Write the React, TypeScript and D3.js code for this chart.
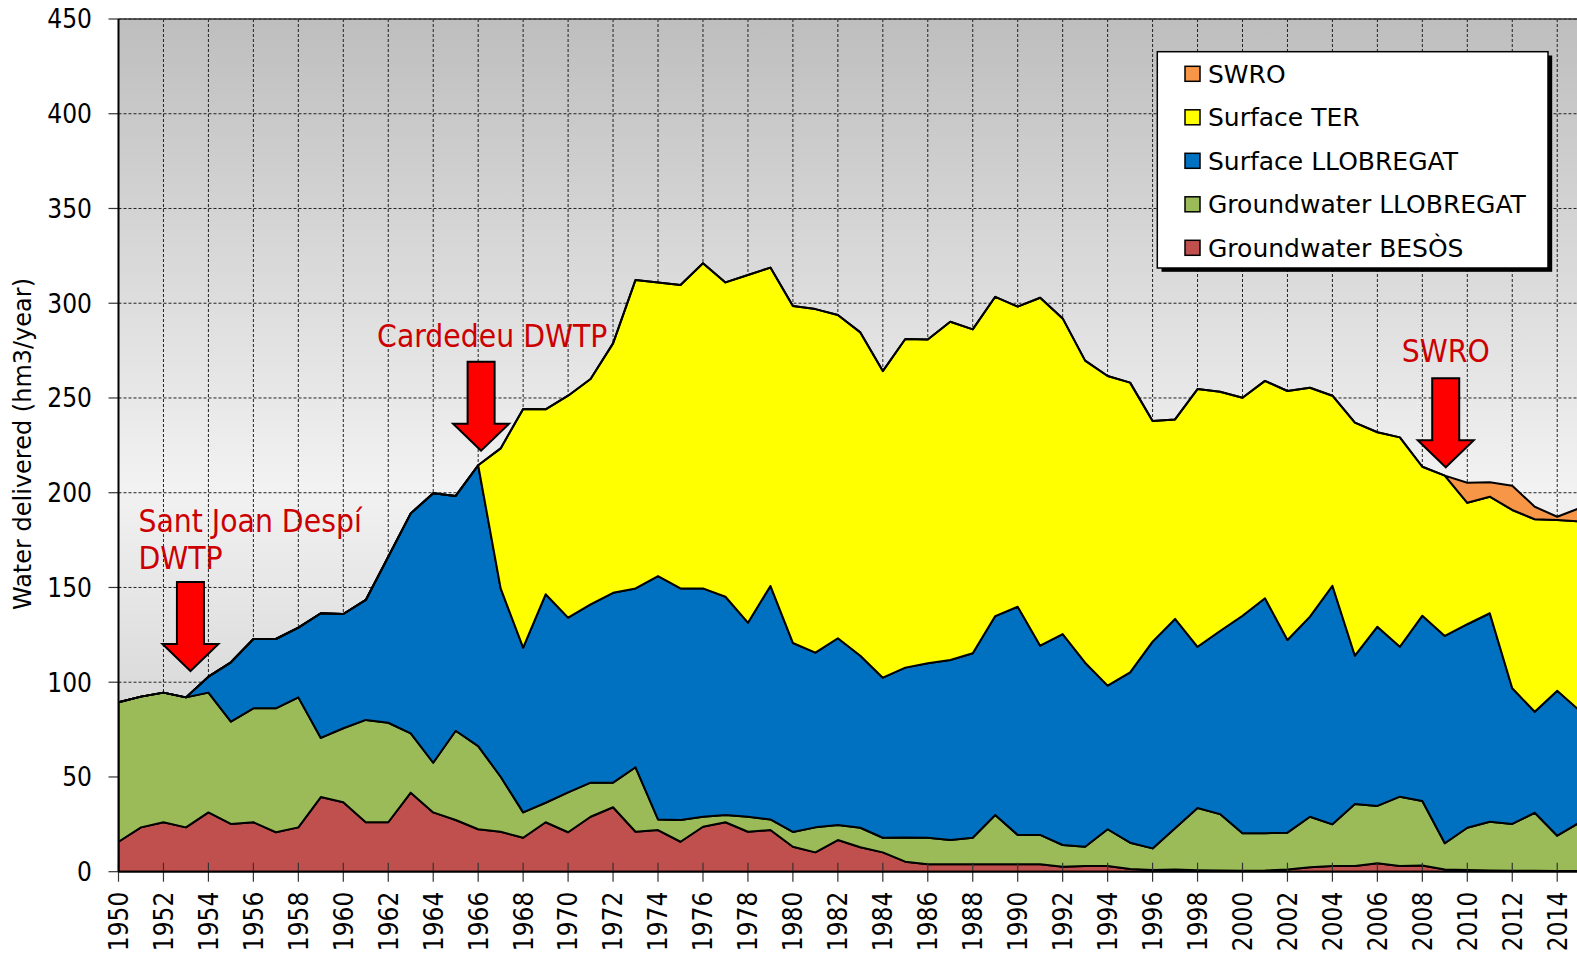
import React from 'react';
import * as d3 from 'd3';

// years on the x axis
const YEARS = d3.range(1950, 2016);

// hm3/year
const besos = [
  15.8, 23.4, 26.1, 23.4, 31.3, 25.2, 26.1, 20.8, 23.4, 39.4,
  36.6, 26.1, 26.1, 41.7, 31.3, 27.3, 22.4, 21.1, 17.9, 26.1,
  20.8, 29.0, 34.0, 21.1, 22.0, 15.8, 23.7, 26.1, 21.1, 22.0,
  13.2, 10.2, 16.7, 12.9, 10.2, 5.3, 3.9, 3.9, 3.9, 3.9,
  3.9, 3.9, 2.6, 3.0, 3.0, 1.4, 0.9, 1.2, 0.8, 0.6,
  0.5, 0.6, 1.2, 2.3, 3.0, 3.0, 4.4, 3.0, 3.3, 1.2,
  0.9, 0.6, 0.5, 0.5, 0.4, 0.4,
];
const gwLlobregat = [
  73.6, 69.0, 68.4, 68.6, 63.2, 54.0, 60.1, 65.4, 68.6, 31.2,
  39.1, 54.0, 52.5, 31.3, 26.2, 47.1, 43.9, 29.0, 13.4, 10.3,
  21.1, 18.0, 13.0, 34.0, 5.6, 11.5, 5.3, 3.8, 7.9, 5.6,
  7.8, 13.2, 7.9, 10.3, 7.7, 12.8, 14.0, 12.8, 14.0, 26.0,
  15.5, 15.5, 11.5, 10.2, 19.4, 13.9, 11.4, 21.7, 32.8, 29.8,
  19.8, 19.7, 19.4, 26.7, 22.0, 32.7, 30.3, 36.6, 34.0, 13.8,
  22.3, 25.8, 24.7, 30.6, 18.6, 25.6,
];
const surfLlobregat = [
  0, 0, 0, 0, 8.4, 31.3, 36.6, 36.6, 36.8, 65.8,
  60.3, 63.3, 87.6, 116.1, 142.2, 123.9, 148.2, 99.4, 86.9, 110.0,
  92.2, 94.1, 100.2, 94.4, 128.4, 122.2, 120.5, 115.2, 102.4, 123.2,
  99.7, 92.2, 98.6, 90.8, 84.5, 89.6, 92.1, 95.0, 97.4, 105.0,
  120.4, 99.9, 111.3, 97.1, 75.8, 89.9, 109.1, 110.5, 85.1, 96.6,
  114.8, 124.0, 101.7, 105.6, 125.9, 78.3, 94.6, 79.1, 97.8, 109.4,
  107.4, 110.0, 71.6, 53.3, 76.5, 59.0,
];
const surfTer = [
  0, 0, 0, 0, 0, 0, 0, 0, 0, 0,
  0, 0, 0, 0, 0, 0, 0, 73.9, 126.0, 97.6,
  117.1, 118.9, 131.6, 162.8, 155.0, 160.1, 171.6, 165.9, 183.5, 168.0,
  177.8, 181.3, 170.6, 170.6, 161.8, 173.4, 170.9, 178.5, 170.9, 168.5,
  158.4, 183.6, 166.6, 159.4, 163.4, 152.9, 116.4, 105.3, 136.0, 126.3,
  115.0, 114.7, 131.4, 120.8, 100.3, 123.0, 102.6, 110.5, 78.6, 84.6,
  64.1, 61.5, 94.1, 101.6, 90.1, 99.9,
];
const swro = [
  0, 0, 0, 0, 0, 0, 0, 0, 0, 0,
  0, 0, 0, 0, 0, 0, 0, 0, 0, 0,
  0, 0, 0, 0, 0, 0, 0, 0, 0, 0,
  0, 0, 0, 0, 0, 0, 0, 0, 0, 0,
  0, 0, 0, 0, 0, 0, 0, 0, 0, 0,
  0, 0, 0, 0, 0, 0, 0, 0, 0, 0,
  10.6, 7.6, 12.8, 6.6, 1.7, 7.0,
];

const SERIES = [
  { key: 'besos', label: 'Groundwater BESÒS', color: '#C0504D', values: besos },
  { key: 'gwLlob', label: 'Groundwater LLOBREGAT', color: '#9BBB59', values: gwLlobregat },
  { key: 'sfLlob', label: 'Surface LLOBREGAT', color: '#0070C0', values: surfLlobregat },
  { key: 'ter', label: 'Surface TER', color: '#FFFF00', values: surfTer },
  { key: 'swro', label: 'SWRO', color: '#F79646', values: swro },
];

const Y_TICKS = [0, 50, 100, 150, 200, 250, 300, 350, 400, 450];
const X_TICKS = d3.range(1950, 2016, 2);

const ANNOTATIONS = [
  { lines: ['Sant Joan Despí', 'DWTP'], year: 1953.2, value: 105.9, dx: -52, dy: -139, anchor: 'start' },
  { lines: ['Cardedeu DWTP'], year: 1966.13, value: 222.2, dx: -104, dy: -104, anchor: 'start' },
  { lines: ['SWRO'], year: 2009.04, value: 213.4, dx: 0, dy: -105.6, anchor: 'middle' },
];

const FONT = "'DejaVu Sans Condensed', 'DejaVu Sans', sans-serif";
const FONT_WIDE = "'DejaVu Sans', sans-serif";

export default function App() {
  const W = 1577;
  const H = 953;
  const left = 118.5;
  const top = 19;
  const bottom = 871.7;

  const x = d3.scaleLinear().domain([1950, 2015]).range([left, left + 65 * 22.48]);
  const y = d3.scaleLinear().domain([0, 450]).range([bottom, top]);

  const rows = YEARS.map((yr, i) => {
    const r: any = { year: yr };
    SERIES.forEach(s => { r[s.key] = s.values[i]; });
    return r;
  });
  const stacked = d3.stack().keys(SERIES.map(s => s.key))(rows);

  const area = d3.area<any>()
    .x(d => x(d.data.year))
    .y0(d => y(d[0]))
    .y1(d => y(d[1]));

  const arrowPath = (tx: number, ty: number) => {
    const len = 89, head = 27, sw = 13.5, hw = 28;
    return `M${tx},${ty} L${tx - hw},${ty - head} L${tx - sw},${ty - head} L${tx - sw},${ty - len} ` +
      `L${tx + sw},${ty - len} L${tx + sw},${ty - head} L${tx + hw},${ty - head} Z`;
  };

  const legendItems = [...SERIES].reverse();

  return (
    <svg width={W} height={H} style={{ position: 'absolute', left: 0, top: 0, background: '#fff' }}
      fontFamily={FONT}>
      <defs>
        <linearGradient id="plotBg" x1="0" y1="0" x2="0" y2="1">
          <stop offset="0" stopColor="#BEBEBE" />
          <stop offset="0.55" stopColor="#F2F2F2" />
          <stop offset="1" stopColor="#C6C6C6" />
        </linearGradient>
        <clipPath id="plotClip">
          <rect x={left} y={top} width={W} height={bottom - top} />
        </clipPath>
      </defs>

      <rect x={left} y={top} width={W} height={bottom - top} fill="url(#plotBg)" />

      {/* grid */}
      <g stroke="#222" strokeWidth={1} strokeDasharray="3 2">
        {Y_TICKS.filter(t => t > 0).map(t => (
          <line key={'gy' + t} x1={left} x2={W} y1={y(t)} y2={y(t)} />
        ))}
        {X_TICKS.filter(t => t > 1950).map(t => (
          <line key={'gx' + t} x1={x(t)} x2={x(t)} y1={top} y2={bottom} />
        ))}
      </g>

      {/* stacked areas */}
      <g clipPath="url(#plotClip)">
        {stacked.map((layer, i) => (
          <path key={SERIES[i].key} d={area(layer as any) || ''} fill={SERIES[i].color}
            stroke="#000" strokeWidth={2} strokeLinejoin="round" />
        ))}
      </g>

      {/* x ticks crossing the axis */}
      <g stroke="#333" strokeWidth={1.2}>
        {X_TICKS.map(t => (
          <line key={'xt' + t} x1={x(t)} x2={x(t)} y1={bottom - 9} y2={bottom + 10} />
        ))}
        {Y_TICKS.map(t => (
          <line key={'yt' + t} x1={left - 10} x2={left} y1={y(t)} y2={y(t)} />
        ))}
      </g>

      {/* axis lines and frame */}
      <line x1={left} x2={W} y1={top} y2={top} stroke="#333" strokeWidth={1.5} />
      <line x1={left} x2={left} y1={top} y2={bottom} stroke="#000" strokeWidth={2} />
      <line x1={left} x2={W} y1={bottom} y2={bottom} stroke="#000" strokeWidth={2} />

      {/* y tick labels */}
      {Y_TICKS.map(t => (
        <text key={'yl' + t} x={92} y={y(t)} dy="0.36em" textAnchor="end" fontSize={26} fill="#000">{t}</text>
      ))}

      {/* x tick labels */}
      {X_TICKS.map(t => (
        <text key={'xl' + t} transform={`translate(${x(t)},${bottom + 20}) rotate(-90)`} dy="0.36em"
          textAnchor="end" fontSize={26} fill="#000">{t}</text>
      ))}

      {/* y axis title */}
      <text transform={`translate(23,444) rotate(-90)`} dy="0.35em" textAnchor="middle" fontSize={24}
        fontFamily={FONT_WIDE} fill="#000">
        Water delivered (hm3/year)
      </text>

      {/* annotations */}
      {ANNOTATIONS.map((a, i) => {
        const tx = x(a.year);
        const ty = y(a.value);
        return (
          <g key={'an' + i}>
            {a.lines.map((ln, j) => (
              <text key={j} x={tx + a.dx} y={ty + a.dy + j * 37} textAnchor={a.anchor as any}
                fontSize={31.5} fill="#CC0000">{ln}</text>
            ))}
            <path d={arrowPath(tx, ty)} fill="#FF0000" stroke="#000" strokeWidth={2} strokeLinejoin="miter" />
          </g>
        );
      })}

      {/* legend */}
      <g>
        <rect x={1161.5} y={55.5} width={390.7} height={216.3} fill="#000" />
        <rect x={1157.3} y={51.7} width={390.7} height={216.3} fill="#fff" stroke="#000" strokeWidth={1.5} />
        {legendItems.map((s, i) => {
          const cy = 73.8 + i * 43.5;
          return (
            <g key={'lg' + s.key}>
              <rect x={1185} y={cy - 7.5} width={15} height={15} fill={s.color} stroke="#000" strokeWidth={1.5} />
              <text x={1208} y={cy} dy="0.36em" fontSize={25} fontFamily={FONT_WIDE} fill="#000">{s.label}</text>
            </g>
          );
        })}
      </g>
    </svg>
  );
}
